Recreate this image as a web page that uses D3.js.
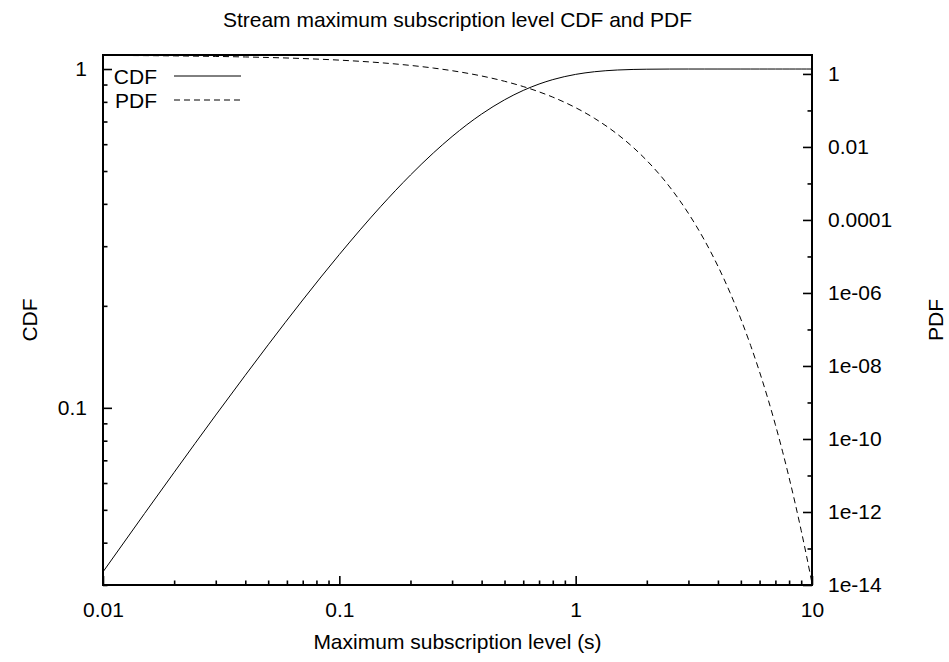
<!DOCTYPE html>
<html><head><meta charset="utf-8">
<script src="https://cdn.jsdelivr.net/npm/d3@7"></script>
<style>
body{margin:0;background:#fff}
svg{display:block}
text{font-family:"Liberation Sans",Arial,Helvetica,sans-serif;fill:#000}
</style>
</head><body>
<script>
// ---- data ----
const xValues   = [0.01,0.015,0.02,0.03,0.04,0.05,0.07,0.1,0.15,0.2,0.25,0.3,0.4,0.5,0.6,0.7,0.8,1,1.2,1.5,1.75,2,2.5,3,3.5,4,4.5,5,5.5,6,6.5,7,7.5,8,8.5,9,9.5,10];
const cdfValues = [0.0328,0.0488,0.0645,0.0952,0.1248,0.1535,0.2081,0.2835,0.3935,0.4866,0.5654,0.6321,0.7364,0.8111,0.8647,0.9030,0.9305,0.9643,0.9817,0.9933,0.9971,0.9987,0.9998,1,1,1,1,1,1,1,1,1,1,1,1,1,1,1];
const pdfValues = [3.224,3.171,3.118,3.016,2.917,2.822,2.640,2.388,2.022,1.711,1.449,1.226,0.8787,0.6296,0.4511,0.3232,0.2316,0.1189,0.06105,0.02246,0.009761,0.004242,8.012e-4,1.513e-4,2.858e-5,5.399e-6,1.020e-6,1.926e-7,3.637e-8,6.87e-9,1.298e-9,2.451e-10,4.629e-11,8.74e-12,1.651e-12,3.119e-13,5.89e-14,1.113e-14];
const seriesNames = ["CDF","PDF"];

const xTickValues = [0.01,0.1,1,10];
const xTickLabels = ["0.01","0.1","1","10"];
const xMinorTicks = [0.02,0.03,0.04,0.05,0.06,0.07,0.08,0.09,0.2,0.3,0.4,0.5,0.6,0.7,0.8,0.9,2,3,4,5,6,7,8,9];
const cdfTickValues = [0.1,1];
const cdfTickLabels = ["0.1","1"];
const cdfMinorTicks = [0.03,0.04,0.05,0.06,0.07,0.08,0.09,0.2,0.3,0.4,0.5,0.6,0.7,0.8,0.9];
const pdfTickValues = [1,1e-2,1e-4,1e-6,1e-8,1e-10,1e-12,1e-14];
const pdfTickLabels = ["1","0.01","0.0001","1e-06","1e-08","1e-10","1e-12","1e-14"];
const pdfMinorTicks = [1e-1,1e-3,1e-5,1e-7,1e-9,1e-11,1e-13];

const titleText = "Stream maximum subscription level CDF and PDF";
const xLabel = "Maximum subscription level (s)";
const yLabelLeft = "CDF";
const yLabelRight = "PDF";

// ---- layout ----
const W = 949, H = 662, FS = 21;
const m = {left:103, right:812, top:55, bottom:585};

const svg = d3.select("body").append("svg").attr("width", W).attr("height", H);

const x  = d3.scaleLog().domain([0.01,10]).range([m.left, m.right]);
const yL = d3.scaleLog().domain([0.03,1.1]).range([m.bottom, m.top]);
const yR = d3.scaleLog().domain([1e-14,3.3]).range([m.bottom, m.top]);

svg.append("defs").append("clipPath").attr("id","clip")
  .append("rect").attr("x",m.left).attr("y",m.top).attr("width",m.right-m.left).attr("height",m.bottom-m.top);

function styleAxis(g){
  g.select(".domain").remove();
  g.selectAll(".tick line").attr("stroke","#000").attr("stroke-width",1.6);
  g.selectAll(".tick text").attr("font-size",FS).style("font-family",'"Liberation Sans",Arial,sans-serif');
}

// bottom axis
svg.append("g").attr("transform",`translate(0,${m.bottom})`)
  .call(d3.axisBottom(x).tickValues(xTickValues).tickFormat((d,i)=>xTickLabels[i]).tickSizeInner(-9).tickSizeOuter(0).tickPadding(17))
  .call(styleAxis);
svg.append("g").attr("transform",`translate(0,${m.bottom})`)
  .call(d3.axisBottom(x).tickValues(xMinorTicks).tickFormat("").tickSizeInner(-4.5).tickSizeOuter(0))
  .call(styleAxis);

// left axis
svg.append("g").attr("transform",`translate(${m.left},0)`)
  .call(d3.axisLeft(yL).tickValues(cdfTickValues).tickFormat((d,i)=>cdfTickLabels[i]).tickSizeInner(-9).tickSizeOuter(0).tickPadding(16))
  .call(styleAxis);
svg.append("g").attr("transform",`translate(${m.left},0)`)
  .call(d3.axisLeft(yL).tickValues(cdfMinorTicks).tickFormat("").tickSizeInner(-4.5).tickSizeOuter(0))
  .call(styleAxis);

// right axis
svg.append("g").attr("transform",`translate(${m.right},0)`)
  .call(d3.axisRight(yR).tickValues(pdfTickValues).tickFormat((d,i)=>pdfTickLabels[i]).tickSizeInner(-9).tickSizeOuter(0).tickPadding(16))
  .call(styleAxis);
svg.append("g").attr("transform",`translate(${m.right},0)`)
  .call(d3.axisRight(yR).tickValues(pdfMinorTicks).tickFormat("").tickSizeInner(-4.5).tickSizeOuter(0))
  .call(styleAxis);

// curves
const plot = svg.append("g").attr("clip-path","url(#clip)");
const cdfLine = d3.line().x((d,i)=>x(xValues[i])).y(d=>yL(d)).curve(d3.curveMonotoneX);
const pdfLine = d3.line().x((d,i)=>x(xValues[i])).y(d=>yR(d)).curve(d3.curveMonotoneX);
plot.append("path").datum(cdfValues).attr("d",cdfLine).attr("fill","none").attr("stroke","#000").attr("stroke-width",1);
plot.append("path").datum(pdfValues).attr("d",pdfLine).attr("fill","none").attr("stroke","#000").attr("stroke-width",1).attr("stroke-dasharray","6,4");

// border
svg.append("rect").attr("x",m.left).attr("y",m.top).attr("width",m.right-m.left).attr("height",m.bottom-m.top)
  .attr("fill","none").attr("stroke","#000").attr("stroke-width",2);

// legend
const legend = svg.append("g");
seriesNames.forEach((name,i)=>{
  const yy = 76 + i*24;
  legend.append("text").attr("x",157).attr("y",yy).attr("dy","0.36em").attr("text-anchor","end").attr("font-size",FS).text(name);
  legend.append("line").attr("x1",174).attr("x2",241).attr("y1",yy).attr("y2",yy)
    .attr("stroke","#000").attr("stroke-width",1).attr("stroke-dasharray", i===0 ? null : "6,4");
});

// titles
svg.append("text").attr("x",(m.left+m.right)/2).attr("y",27).attr("text-anchor","middle").attr("font-size",FS).text(titleText);
svg.append("text").attr("x",(m.left+m.right)/2).attr("y",649).attr("text-anchor","middle").attr("font-size",FS).text(xLabel);
svg.append("text").attr("transform",`translate(37,${(m.top+m.bottom)/2}) rotate(-90)`).attr("text-anchor","middle").attr("font-size",FS).text(yLabelLeft);
svg.append("text").attr("transform",`translate(943,${(m.top+m.bottom)/2}) rotate(-90)`).attr("text-anchor","middle").attr("font-size",FS).text(yLabelRight);
</script>
</body></html>
